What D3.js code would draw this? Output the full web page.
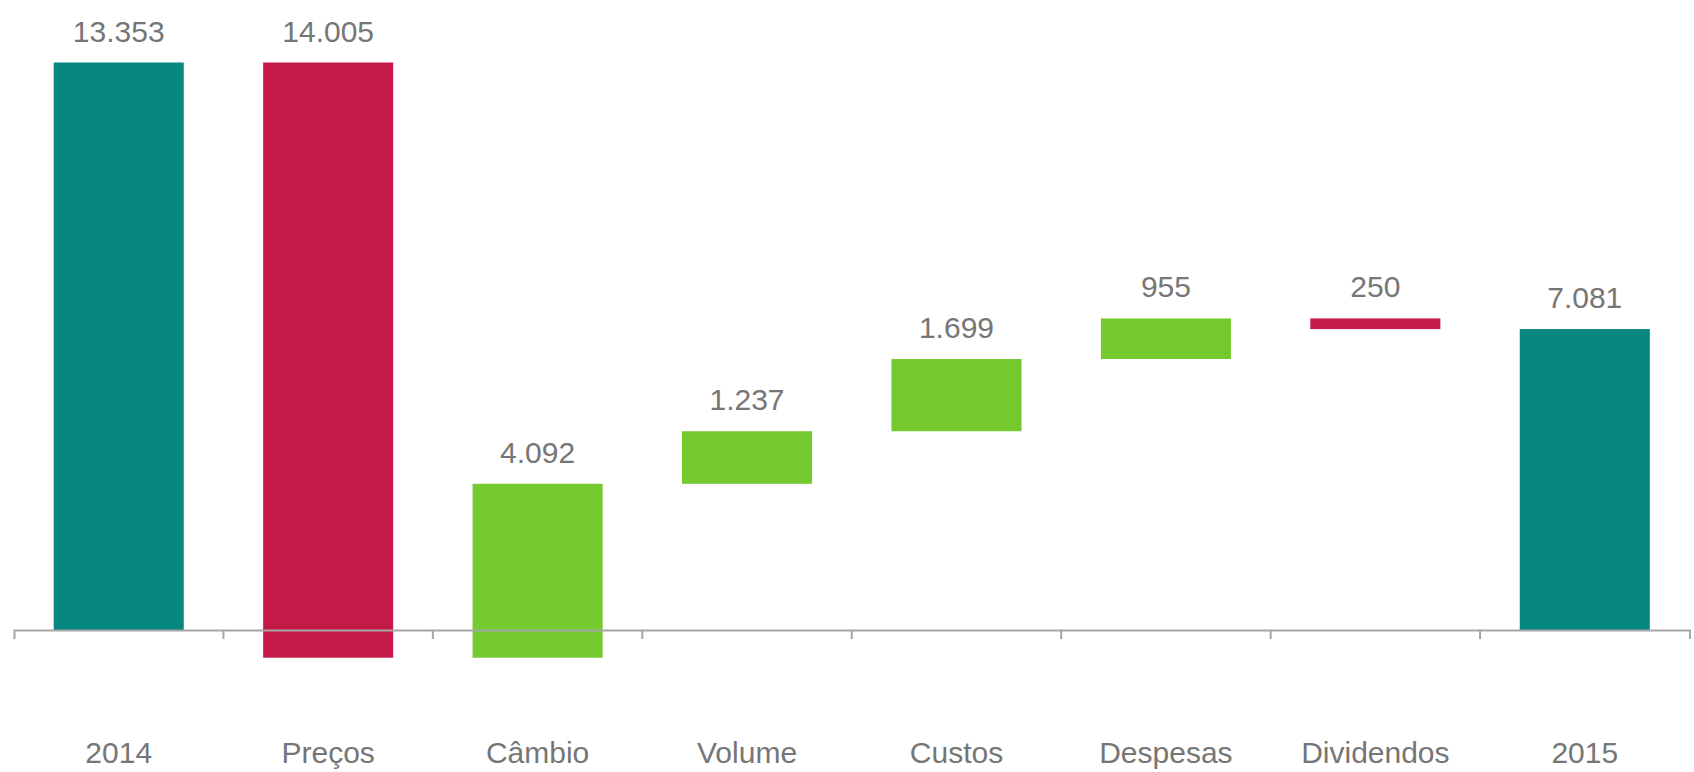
<!DOCTYPE html>
<html>
<head>
<meta charset="utf-8">
<script src="https://cdn.jsdelivr.net/npm/d3@7"></script>
<style>
  html, body { margin: 0; padding: 0; background: #ffffff; }
  svg { display: block; }
</style>
</head>
<body>
<svg id="chart" width="1694" height="772"></svg>
<script>
// ---- data ----
const categories = ["2014", "Preços", "Câmbio", "Volume", "Custos", "Despesas", "Dividendos", "2015"];
const values = [13353, -14005, 4092, 1237, 1699, 955, -250, 7081];
const kinds = ["total", "delta", "delta", "delta", "delta", "delta", "delta", "total"];

// ---- build waterfall ----
let running = 0;
const rows = categories.map((c, i) => {
  let start, end;
  if (kinds[i] === "total") { start = 0; end = values[i]; running = values[i]; }
  else { start = running; end = running + values[i]; running = end; }
  return { cat: c, value: values[i], kind: kinds[i], start, end };
});

const colorTotal = "#068880", colorNeg = "#C51A47", colorPos = "#74C92F";
const textColor = "#767676", axisColor = "#A6A6A6";

const svg = d3.select("#chart");
const axisY = 630;

const x = d3.scaleBand()
  .domain(categories)
  .range([14, 1689.5])
  .paddingInner(0.379)
  .paddingOuter(0.1895);

const y = d3.scaleLinear()
  .domain([0, d3.max(rows, d => Math.max(d.start, d.end))])
  .range([axisY, 62.5]);

const fmt = d3.formatLocale({ decimal: ",", thousands: ".", grouping: [3], currency: ["", ""] }).format(",");

// bars
svg.append("g").selectAll("rect")
  .data(rows)
  .join("rect")
  .attr("x", d => x(d.cat))
  .attr("width", x.bandwidth())
  .attr("y", d => y(Math.max(d.start, d.end)))
  .attr("height", d => Math.abs(y(d.start) - y(d.end)))
  .attr("fill", d => d.kind === "total" ? colorTotal : (d.value < 0 ? colorNeg : colorPos));

// value labels
svg.append("g").selectAll("text")
  .data(rows)
  .join("text")
  .attr("x", d => x(d.cat) + x.bandwidth() / 2)
  .attr("y", d => y(Math.max(d.start, d.end)) - 21)
  .attr("text-anchor", "middle")
  .attr("font-family", "'Liberation Sans', Arial, sans-serif")
  .attr("font-size", 30)
  .attr("fill", textColor)
  .text(d => fmt(Math.abs(d.value)));

// axis
const step = x.step();
const gx = svg.append("g").attr("transform", `translate(0,${axisY})`)
  .call(d3.axisBottom(x).tickSize(0).tickSizeOuter(9).tickPadding(0));
gx.select(".domain").attr("stroke", axisColor).attr("stroke-width", 2);
gx.selectAll("text")
  .attr("dy", null)
  .attr("y", 133)
  .attr("font-family", "'Liberation Sans', Arial, sans-serif")
  .attr("font-size", 30)
  .attr("fill", textColor);

// inner tick marks at category boundaries
const boundaries = categories.slice(1).map(c => x(c) - step * x.paddingInner() / 2);
gx.append("g").selectAll("line")
  .data(boundaries)
  .join("line")
  .attr("x1", d => d).attr("x2", d => d)
  .attr("y1", 0).attr("y2", 9)
  .attr("stroke", axisColor)
  .attr("stroke-width", 2);
</script>
</body>
</html>
